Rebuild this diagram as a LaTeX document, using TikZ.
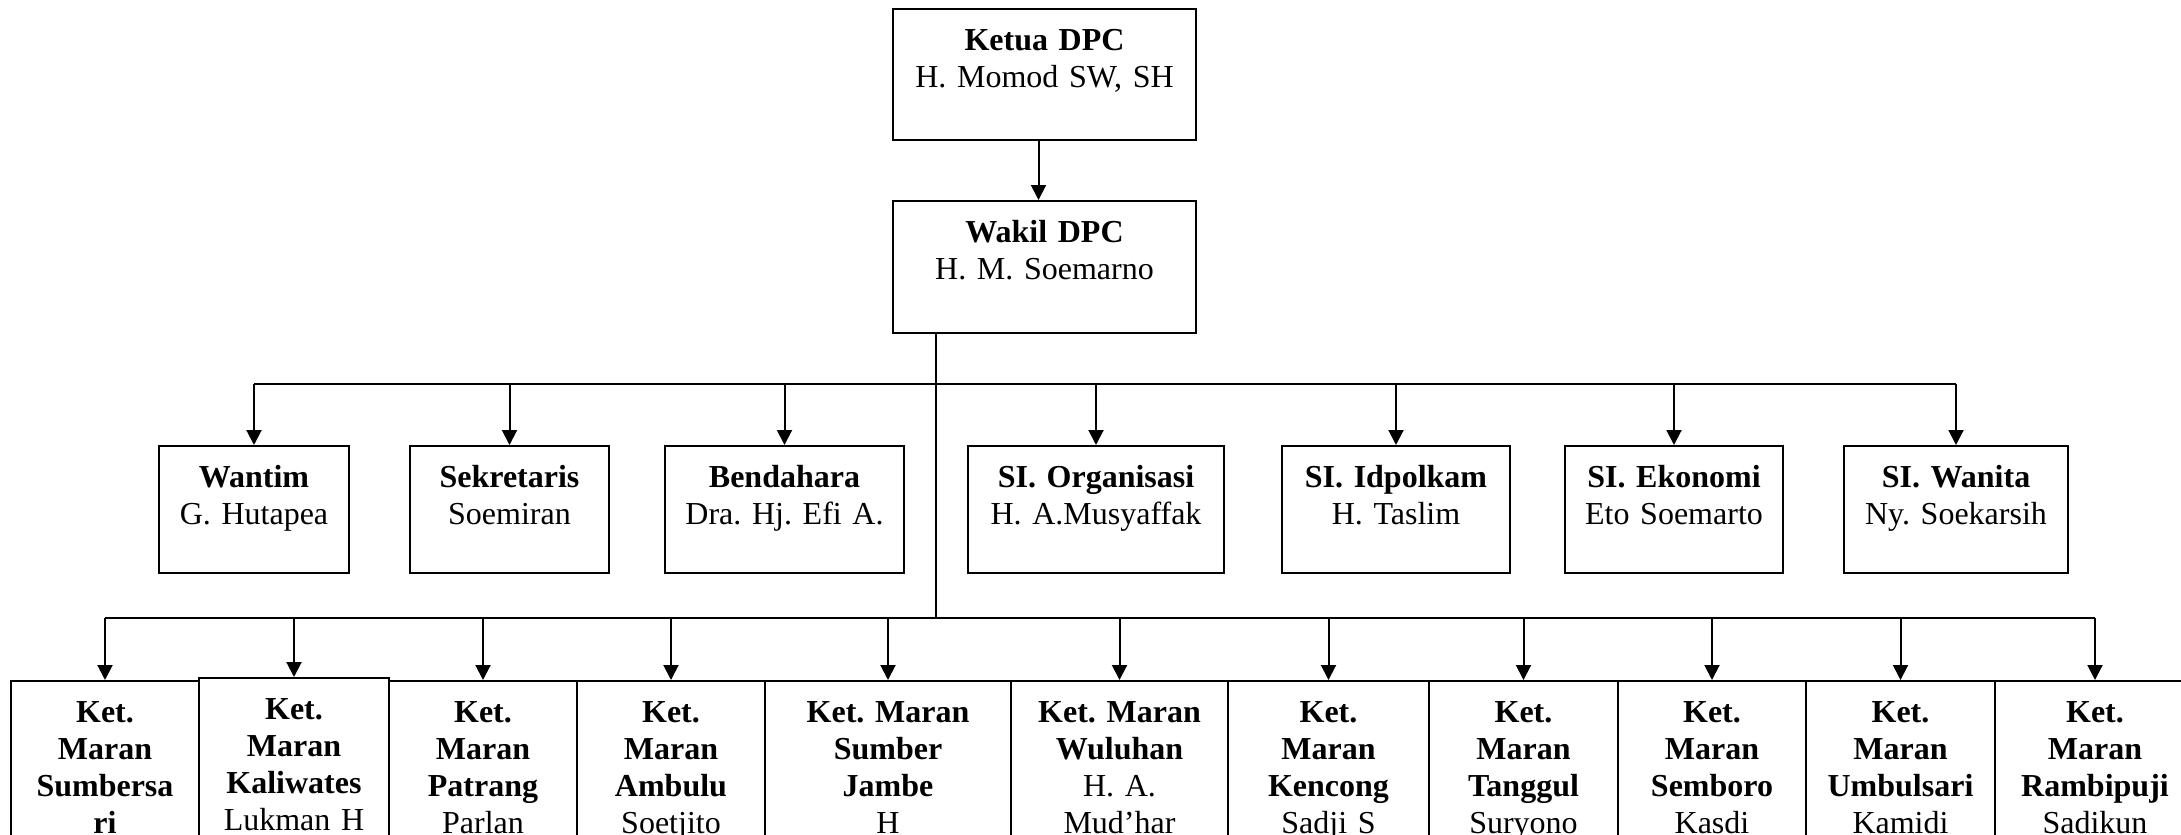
\documentclass[tikz,border=0pt]{standalone}
\usepackage{fontspec}
\setmainfont{Liberation Serif}
\usetikzlibrary{arrows.meta}

\begin{document}
\begin{tikzpicture}[x=0.5pt,y=-0.5pt,
	box/.style={rectangle,draw,line width=1pt,anchor=north,inner sep=0pt,align=center,font=\fontsize{16}{18.5}\selectfont\frenchspacing,text height=20.5pt},
	pimpinan/.style={box,text width=151.5pt,text depth=45pt},
	bidang/.style={box,text width=#1,text depth=43pt},
	ranting/.style={box,text width=#1,text depth=80pt},
	garis/.style={line width=1pt},
	panah/.style={garis,-{Triangle[length=7.5pt,width=7.5pt]}}]
				\useasboundingbox (0,0) rectangle (2181,835);
				\clip (0,0) rectangle (2181,835);
				% pimpinan
				\node (ketua) [pimpinan] at (1044.5,8) {\textbf{Ketua DPC}\\H. Momod SW, SH};
				\node (wakil) [pimpinan,text depth=45.5pt] at (1044.5,200) {\textbf{Wakil DPC}\\H. M. Soemarno};
				\draw [panah]([xshift=-3pt]ketua.south) -- ([xshift=-3pt]wakil.north);
				% bidang
				\node (wantim) [bidang=95pt] at (254,445) {\textbf{Wantim}\\G. Hutapea};
				\node (sekretaris) [bidang=99.5pt] at (509.5,445) {\textbf{Sekretaris}\\Soemiran};
				\node (bendahara) [bidang=119.5pt] at (784.5,445) {\textbf{Bendahara}\\Dra. Hj. Efi A.};
				\node (organisasi) [bidang=128pt] at (1096,445) {\textbf{SI. Organisasi}\\H. A.Musyaffak};
				\node (idpolkam) [bidang=114pt] at (1396,445) {\textbf{SI. Idpolkam}\\H. Taslim};
				\node (ekonomi) [bidang=109pt] at (1674,445) {\textbf{SI. Ekonomi}\\Eto Soemarto};
				\node (wanita) [bidang=112pt] at (1956,445) {\textbf{SI. Wanita}\\Ny. Soekarsih};
				% ranting
				\node (sumbersari) [ranting=94pt] at (105,680) {\bfseries Ket.\\Maran\\Sumbersa\\ri};
				\node (kaliwates) [ranting=95pt] at (294,677) {\bfseries Ket.\\Maran\\Kaliwates\\ \mdseries Lukman H};
				\node (patrang) [ranting=94pt] at (483,680) {\bfseries Ket.\\Maran\\Patrang\\ \mdseries Parlan};
				\node (ambulu) [ranting=94pt] at (671,680) {\bfseries Ket.\\Maran\\Ambulu\\ \mdseries Soetjito};
				\node (sumberjambe) [ranting=123pt] at (888,680) {\bfseries Ket. Maran\\Sumber\\Jambe\\ \mdseries H};
				\node (wuluhan) [ranting=108.5pt] at (1119.5,680) {\bfseries Ket. Maran\\Wuluhan\\ \mdseries H. A.\\Mud’har};
				\node (kencong) [ranting=100.5pt] at (1328.5,680) {\bfseries Ket.\\Maran\\Kencong\\ \mdseries Sadji S};
				\node (tanggul) [ranting=94.5pt] at (1523.5,680) {\bfseries Ket.\\Maran\\Tanggul\\ \mdseries Suryono};
				\node (semboro) [ranting=94pt] at (1712,680) {\bfseries Ket.\\Maran\\Semboro\\ \mdseries Kasdi};
				\node (umbulsari) [ranting=94.5pt] at (1900.5,680) {\bfseries Ket.\\Maran\\Umbulsari\\ \mdseries Kamidi};
				\node (rambipuji) [ranting=100pt] at (2095,680) {\bfseries Ket.\\Maran\\Rambipuji\\ \mdseries Sadikun};
				% garis komando
				\coordinate (rel1) at (0,384);
				\coordinate (pokok) at (936,618);
				\draw [garis](wakil.south -| pokok) -- (pokok);
				\draw [garis](wantim.north |- rel1) -- (wanita.north |- rel1);
				\draw [garis](sumbersari.north |- pokok) -- (rambipuji.north |- pokok);
				\foreach \n in {wantim,sekretaris,bendahara,organisasi,idpolkam,ekonomi,wanita}
					\draw [panah](\n.north |- rel1) -- (\n.north);
				\foreach \n in {sumbersari,kaliwates,patrang,ambulu,sumberjambe,wuluhan,kencong,tanggul,semboro,umbulsari,rambipuji}
					\draw [panah](\n.north |- pokok) -- (\n.north);
			\end{tikzpicture}
\end{document}
